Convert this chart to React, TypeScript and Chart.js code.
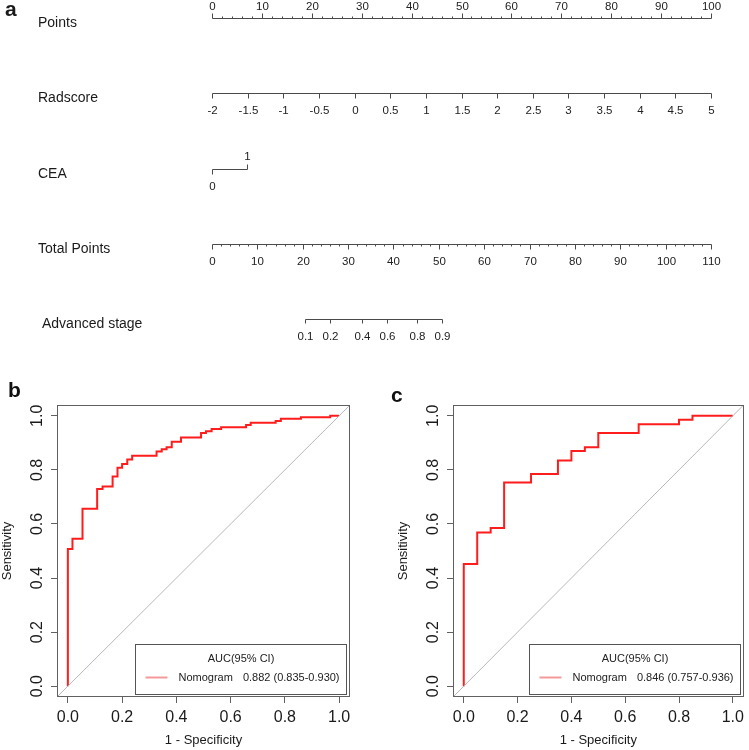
import React, { useEffect, useRef } from "react";
import { Chart, registerables } from "chart.js";

Chart.register(...registerables);

const FONT = "'Liberation Sans', Arial, Helvetica, sans-serif";
const INK = "#1a1a1a";
const AXIS = "#606060";
const NOMO_LINE = "#4a4a4a";

// ---------- Nomogram (panel a) ----------
const rowNames = ["Points", "Radscore", "CEA", "Total Points", "Advanced stage"];
const pointsMajor = [0, 10, 20, 30, 40, 50, 60, 70, 80, 90, 100];
const pointsMinorStep = 2;
const radscoreTicks = [-2, -1.5, -1, -0.5, 0, 0.5, 1, 1.5, 2, 2.5, 3, 3.5, 4, 4.5, 5];
const ceaValues = [0, 1];
const ceaPoints = [0, 7];
const totalMajor = [0, 10, 20, 30, 40, 50, 60, 70, 80, 90, 100, 110];
const totalMinorStep = 2;
const stageProbs = [0.1, 0.2, 0.4, 0.6, 0.8, 0.9];
const stageTotals = [20.5, 26.0, 33.0, 38.5, 45.1, 50.8];

// ---------- ROC (panels b, c) ----------
const rocTicks = [0, 0.2, 0.4, 0.6, 0.8, 1.0];
const AX_MIN = -0.04;
const AX_MAX = 1.04;

const fprB = [0, 0, 0.017, 0.054, 0.108, 0.128, 0.165, 0.183, 0.2, 0.219, 0.237, 0.327, 0.346, 0.364, 0.383, 0.417, 0.491, 0.509, 0.53, 0.565, 0.657, 0.674, 0.766, 0.785, 0.859, 0.967, 1.0];
const tprB = [0, 0.507, 0.545, 0.656, 0.729, 0.739, 0.776, 0.808, 0.822, 0.838, 0.852, 0.868, 0.876, 0.884, 0.904, 0.92, 0.936, 0.943, 0.951, 0.958, 0.966, 0.974, 0.981, 0.989, 0.995, 1.0, 1.0];
const aucB = "0.882 (0.835-0.930)";

const fprC = [0, 0, 0.05, 0.1, 0.15, 0.25, 0.35, 0.4, 0.45, 0.5, 0.65, 0.8, 0.85, 1.0];
const tprC = [0, 0.452, 0.568, 0.585, 0.753, 0.785, 0.835, 0.87, 0.884, 0.936, 0.969, 0.985, 1.0, 1.0];
const aucC = "0.846 (0.757-0.936)";

const legendTitle = "AUC(95% CI)";
const legendName = "Nomogram";

const fmt = (v: number) => String(v);

const nomoPlugin = {
  id: "nomoDraw",
  afterDraw(chart: any) {
    const ctx = chart.ctx as CanvasRenderingContext2D;
    const xs = chart.scales.x;
    const ys = chart.scales.y;
    const X = (p: number) => Math.round(xs.getPixelForValue(p)) + 0.5;
    const Y = (r: number) => Math.round(ys.getPixelForValue(r)) + 0.5;
    const seg = (x1: number, y1: number, x2: number, y2: number) => {
      ctx.beginPath();
      ctx.moveTo(x1, y1);
      ctx.lineTo(x2, y2);
      ctx.stroke();
    };
    ctx.save();
    ctx.lineWidth = 1;
    ctx.strokeStyle = NOMO_LINE;

    // row names
    ctx.fillStyle = INK;
    ctx.font = `14px ${FONT}`;
    ctx.textAlign = "left";
    ctx.textBaseline = "alphabetic";
    rowNames.forEach((n, i) => ctx.fillText(n, i === 4 ? 42 : 38, Y(i) + 8));
    ctx.font = `bold 21px ${FONT}`;
    ctx.fillText("a", 5, 16);

    ctx.font = `11.5px ${FONT}`;
    ctx.fillStyle = "#222";
    ctx.textAlign = "center";
    ctx.textBaseline = "middle";

    // Points row
    let y = Y(0);
    seg(X(pointsMajor[0]), y, X(pointsMajor[pointsMajor.length - 1]), y);
    for (let p = pointsMajor[0]; p <= pointsMajor[pointsMajor.length - 1]; p += pointsMinorStep) {
      const major = pointsMajor.includes(p);
      seg(X(p), y, X(p), y - (major ? 5 : 2));
    }
    pointsMajor.forEach((p) => ctx.fillText(fmt(p), X(p), y - 12));

    // Radscore row
    y = Y(1);
    const r0 = radscoreTicks[0];
    const r1 = radscoreTicks[radscoreTicks.length - 1];
    const radPts = (r: number) => ((r - r0) / (r1 - r0)) * 100;
    seg(X(radPts(r0)), y, X(radPts(r1)), y);
    radscoreTicks.forEach((r) => {
      seg(X(radPts(r)), y, X(radPts(r)), y + 5);
      ctx.fillText(fmt(r), X(radPts(r)), y + 17);
    });

    // CEA row
    y = Y(2);
    seg(X(ceaPoints[0]), y, X(ceaPoints[1]), y);
    ceaValues.forEach((v, i) => {
      const up = i % 2 === 1;
      seg(X(ceaPoints[i]), y, X(ceaPoints[i]), y + (up ? -5 : 5));
      ctx.fillText(fmt(v), X(ceaPoints[i]), y + (up ? -12.5 : 17));
    });

    // Total points row
    y = Y(3);
    const tMax = totalMajor[totalMajor.length - 1];
    const totPts = (t: number) => (t / tMax) * 100;
    seg(X(totPts(0)), y, X(totPts(tMax)), y);
    for (let t = 0; t <= tMax; t += totalMinorStep) {
      const major = totalMajor.includes(t);
      seg(X(totPts(t)), y, X(totPts(t)), y + (major ? 5 : 2));
    }
    totalMajor.forEach((t) => ctx.fillText(fmt(t), X(totPts(t)), y + 17));

    // Advanced stage row
    y = Y(4);
    seg(X(totPts(stageTotals[0])), y, X(totPts(stageTotals[stageTotals.length - 1])), y);
    stageProbs.forEach((p, i) => {
      const x = X(totPts(stageTotals[i]));
      seg(x, y, x, y + 4);
      ctx.fillText(fmt(p), x, y + 17);
    });

    ctx.restore();
  },
};

function Nomogram() {
  const ref = useRef<HTMLCanvasElement>(null);
  useEffect(() => {
    const chart = new Chart(ref.current as HTMLCanvasElement, {
      type: "scatter",
      data: { datasets: [] },
      options: {
        animation: false,
        responsive: false,
        devicePixelRatio: 1,
        events: [],
        layout: { padding: { top: 18, bottom: 51, left: 212, right: 38 } },
        plugins: { legend: { display: false }, tooltip: { enabled: false } },
        scales: {
          x: { type: "linear", min: 0, max: 100, display: false },
          y: { type: "linear", min: 0, max: 4, reverse: true, display: false },
        },
      },
      plugins: [nomoPlugin],
    } as any);
    return () => chart.destroy();
  }, []);
  return (
    <canvas
      ref={ref}
      width={749}
      height={370}
      style={{ position: "absolute", left: 0, top: 0, width: 749, height: 370 }}
    />
  );
}

function makeRocPlugin(letter: string, lx: number, ly: number, auc: string) {
  return {
    id: "rocDecor",
    afterDraw(chart: any) {
      const ctx = chart.ctx as CanvasRenderingContext2D;
      const a = chart.chartArea;
      ctx.save();
      // box
      ctx.strokeStyle = AXIS;
      ctx.lineWidth = 1;
      const L = Math.round(a.left) + 0.5;
      const T = Math.round(a.top) + 0.5;
      const R = Math.round(a.right) - 0.5;
      const B = Math.round(a.bottom) - 0.5;
      ctx.strokeRect(L, T, R - L, B - T);

      // legend
      const w = 211;
      const h = 50;
      const x0 = Math.round(R - 4 - w) + 0.5;
      const y0 = Math.round(B - 3 - h) + 0.5;
      ctx.fillStyle = "#fff";
      ctx.fillRect(x0, y0, w, h);
      ctx.strokeStyle = "#555";
      ctx.strokeRect(x0, y0, w, h);
      ctx.fillStyle = "#222";
      ctx.font = `11px ${FONT}`;
      ctx.textAlign = "center";
      ctx.textBaseline = "middle";
      ctx.fillText(legendTitle, x0 + w / 2, y0 + 14);
      ctx.strokeStyle = "#f49a9a";
      ctx.lineWidth = 2;
      ctx.beginPath();
      ctx.moveTo(x0 + 10, y0 + 33);
      ctx.lineTo(x0 + 32, y0 + 33);
      ctx.stroke();
      ctx.textAlign = "left";
      ctx.fillText(legendName, x0 + 43, y0 + 33);
      const nw = ctx.measureText(legendName).width;
      ctx.fillText(auc, x0 + 43 + nw + 10, y0 + 33);

      // panel letter
      ctx.fillStyle = "#111";
      ctx.font = `bold 21px ${FONT}`;
      ctx.textBaseline = "alphabetic";
      ctx.fillText(letter, lx, ly);
      ctx.restore();
    },
  };
}

function Roc(props: {
  fpr: number[];
  tpr: number[];
  auc: string;
  letter: string;
  left: number;
  width: number;
  padLeft: number;
  padRight: number;
  letterX: number;
  letterY: number;
}) {
  const ref = useRef<HTMLCanvasElement>(null);
  useEffect(() => {
    const { fpr, tpr, auc, letter, padLeft, padRight, letterX, letterY } = props;
    const chart = new Chart(ref.current as HTMLCanvasElement, {
      type: "scatter",
      data: {
        datasets: [
          {
            data: [
              { x: AX_MIN, y: AX_MIN },
              { x: AX_MAX, y: AX_MAX },
            ],
            showLine: true,
            borderColor: "#b8b8b8",
            borderWidth: 1,
            pointRadius: 0,
          },
          {
            data: fpr.map((x, i) => ({ x, y: tpr[i] })),
            showLine: true,
            stepped: true,
            borderColor: "#ff1c1c",
            borderWidth: 2,
            pointRadius: 0,
          },
        ],
      },
      options: {
        animation: false,
        responsive: false,
        devicePixelRatio: 1,
        events: [],
        layout: { padding: { top: 35, right: padRight, bottom: 0, left: padLeft } },
        plugins: { legend: { display: false }, tooltip: { enabled: false } },
        scales: {
          x: {
            type: "linear",
            min: AX_MIN,
            max: AX_MAX,
            afterBuildTicks: (s: any) => {
              s.ticks = rocTicks.map((v) => ({ value: v }));
            },
            afterFit: (s: any) => {
              s.height = 53;
            },
            grid: { drawOnChartArea: false, tickLength: 6, color: AXIS },
            border: { display: false },
            ticks: {
              font: { family: FONT, size: 16 },
              color: INK,
              padding: 5,
              minRotation: 0,
              maxRotation: 0,
              callback: (v: any) => Number(v).toFixed(1),
            },
            title: {
              display: true,
              text: "1 - Specificity",
              font: { family: FONT, size: 13 },
              color: INK,
              padding: { top: 0, bottom: 2 },
            },
          },
          y: {
            type: "linear",
            min: AX_MIN,
            max: AX_MAX,
            afterBuildTicks: (s: any) => {
              s.ticks = rocTicks.map((v) => ({ value: v }));
            },
            afterFit: (s: any) => {
              s.width = 57;
            },
            grid: { drawOnChartArea: false, tickLength: 6, color: AXIS },
            border: { display: false },
            ticks: {
              font: { family: FONT, size: 16 },
              color: INK,
              padding: 2,
              minRotation: 90,
              maxRotation: 90,
              crossAlign: "center",
              callback: (v: any) => Number(v).toFixed(1),
            },
            title: {
              display: true,
              text: "Sensitivity",
              font: { family: FONT, size: 13 },
              color: INK,
              padding: { top: 0, bottom: 0 },
            },
          },
        },
      },
      plugins: [makeRocPlugin(letter, letterX, letterY, auc)],
    } as any);
    return () => chart.destroy();
  }, []);
  return (
    <canvas
      ref={ref}
      width={props.width}
      height={380}
      style={{ position: "absolute", left: props.left, top: 370, width: props.width, height: 380 }}
    />
  );
}

export default function App() {
  return (
    <div
      style={{
        position: "absolute",
        left: 0,
        top: 0,
        width: 749,
        height: 750,
        background: "#fff",
        overflow: "hidden",
      }}
    >
      <Nomogram />
      <Roc fpr={fprB} tpr={tprB} auc={aucB} letter="b" left={0} width={375} padLeft={0} padRight={25} letterX={8} letterY={27} />
      <Roc fpr={fprC} tpr={tprC} auc={aucC} letter="c" left={375} width={374} padLeft={21} padRight={1} letterX={16} letterY={32} />
    </div>
  );
}
